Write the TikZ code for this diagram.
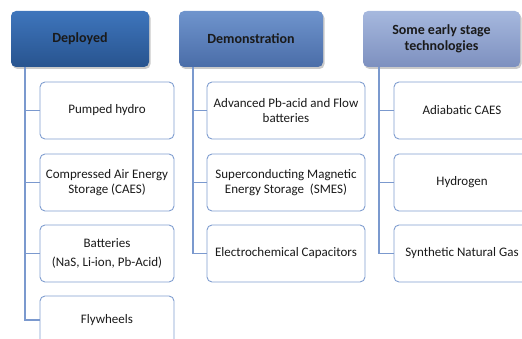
\documentclass[tikz,border=0pt]{standalone}
\usepackage{fontspec}
\setmainfont{Carlito}
\usetikzlibrary{shadows}
\definecolor{hAtop}{HTML}{3E75BC}
\definecolor{hAbot}{HTML}{28548F}
\definecolor{hBtop}{HTML}{6F94CD}
\definecolor{hBbot}{HTML}{4A6DA8}
\definecolor{hCtop}{HTML}{A6B8DE}
\definecolor{hCbot}{HTML}{7D90BF}
\definecolor{boxline}{HTML}{809ED0}
\definecolor{conline}{HTML}{7B99CE}
\definecolor{txt}{HTML}{1A1A1A}
\begin{document}
\begin{tikzpicture}[x=1pt,y=-1pt,
  header/.style={rounded corners=5pt, minimum height=56pt, align=center,
    text=txt, font=\fontsize{14}{16}\selectfont\bfseries,
    drop shadow={shadow xshift=1.5pt, shadow yshift=-2pt, opacity=0.35, fill=black!60}},
  itembox/.style={draw=boxline, line width=0.9pt, rounded corners=5pt, fill=white,
    minimum height=57pt, align=center, text=txt, font=\fontsize{13}{14.5}\selectfont},
  conn/.style={draw=conline, line width=1.1pt}]
\useasboundingbox (0,0) rectangle (522,339);
\clip (0,0) rectangle (522,339);
% headers
\node[header, minimum width=138pt, top color=hAtop, bottom color=hAbot] (h1) at (80,39) {Deployed};
\node[header, minimum width=144pt, top color=hBtop, bottom color=hBbot] (h2) at (251,39) {Demonstration};
\node[header, minimum width=157pt, top color=hCtop, bottom color=hCbot] (h3) at (441.5,39) {Some early stage\\technologies};
% column 1
\node[itembox, minimum width=134pt] (a1) at (107,110.5) {Pumped hydro};
\node[itembox, minimum width=134pt] (a2) at (107,182.5) {Compressed Air Energy\\Storage (CAES)};
\node[itembox, minimum width=134pt] (a3) at (107,253.5) {Batteries\\[5pt](NaS, Li-ion, Pb-Acid)};
\node[itembox, minimum width=134pt, minimum height=48pt] (a4) at (107,320) {Flywheels};
% column 2
\node[itembox, minimum width=158pt] (b1) at (286,110.5) {Advanced Pb-acid and Flow\\batteries};
\node[itembox, minimum width=158pt] (b2) at (286,182.5) {Superconducting Magnetic\\Energy Storage\ \ (SMES)};
\node[itembox, minimum width=158pt] (b3) at (286,253.5) {Electrochemical Capacitors};
% column 3
\node[itembox, minimum width=136pt] (c1) at (462,110.5) {Adiabatic CAES};
\node[itembox, minimum width=136pt] (c2) at (462,182.5) {Hydrogen};
\node[itembox, minimum width=136pt] (c3) at (462,253.5) {Synthetic Natural Gas};
% connectors
\coordinate (t1) at (25,67);
\coordinate (t2) at (193,67);
\coordinate (t3) at (379,67);
\draw[conn] (t1) |- (a1.west);
\draw[conn] (t1) |- (a2.west);
\draw[conn] (t1) |- (a3.west);
\draw[conn] (t1) |- (a4.west);
\draw[conn] (t2) |- (b1.west);
\draw[conn] (t2) |- (b2.west);
\draw[conn] (t2) |- (b3.west);
\draw[conn] (t3) |- (c1.west);
\draw[conn] (t3) |- (c2.west);
\draw[conn] (t3) |- (c3.west);
\end{tikzpicture}
\end{document}
